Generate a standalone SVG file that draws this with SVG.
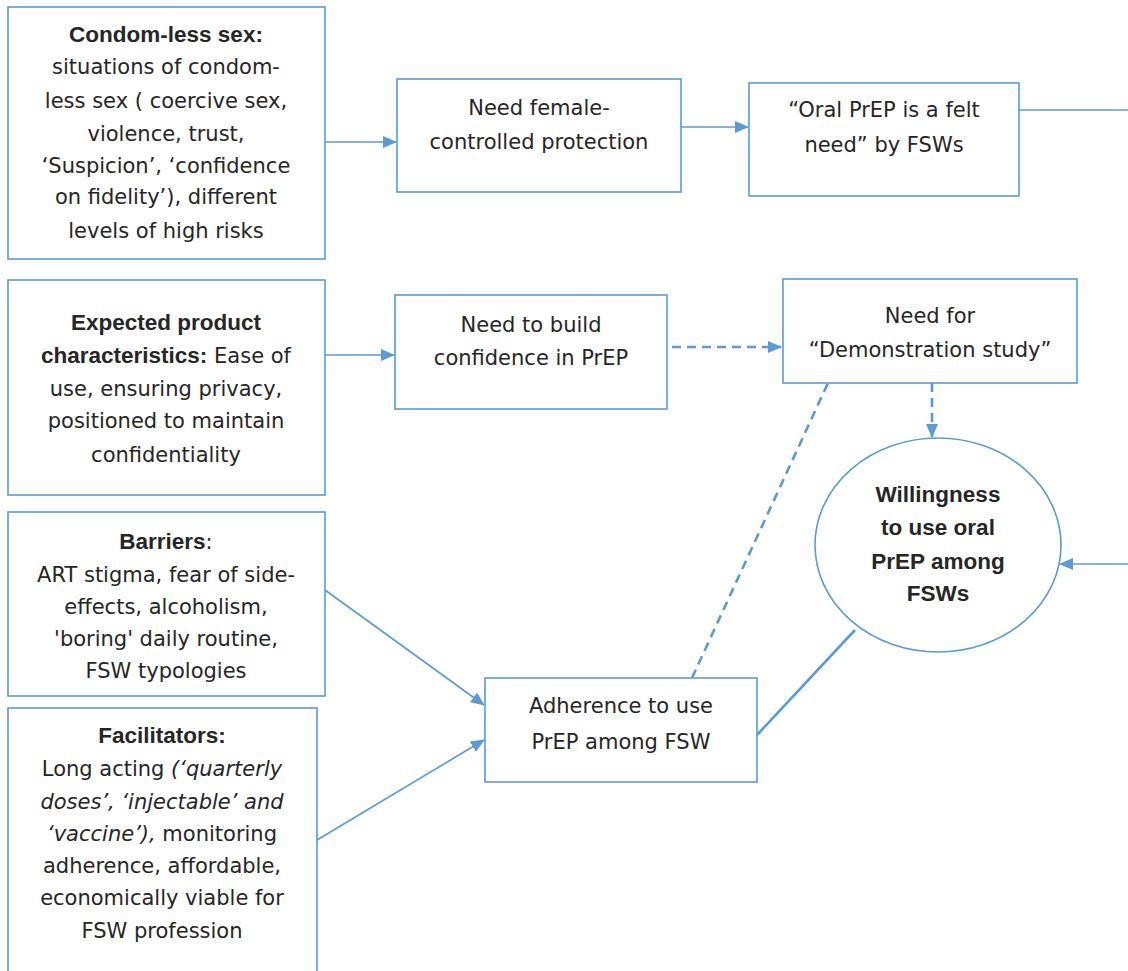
<svg xmlns="http://www.w3.org/2000/svg" width="1128" height="971" viewBox="0 0 1128 971">
<style>
.box{fill:#fff;stroke:#5B9BD5;stroke-width:1.6}
.t{font-family:"DejaVu Sans",Verdana,sans-serif;font-size:21px;fill:#262626;text-anchor:middle}
.b{font-family:"Liberation Sans",Arial,sans-serif;font-size:22.5px;font-weight:bold}
.i{font-style:italic}
.c{fill:none;stroke:#5B9BD5;stroke-width:1.6}
.d{fill:none;stroke:#5B9BD5;stroke-width:2.6;stroke-dasharray:9 6}
</style>
<defs>
<marker id="ah" markerWidth="14" markerHeight="12" refX="13" refY="6" orient="auto" markerUnits="userSpaceOnUse">
<path d="M0,0 L14,6 L0,12 Z" fill="#5B9BD5"/>
</marker>
</defs>
<rect width="1128" height="971" fill="#fff"/>
<g id="connectors">
<line class="c" x1="325" y1="142" x2="396" y2="142" marker-end="url(#ah)"/>
<line class="c" x1="681" y1="127" x2="748" y2="127" marker-end="url(#ah)"/>
<line class="c" x1="1019" y1="110" x2="1128" y2="110"/>
<line class="c" x1="325" y1="355" x2="394" y2="355" marker-end="url(#ah)"/>
<line class="d" x1="672" y1="347" x2="781" y2="347" marker-end="url(#ah)"/>
<line class="d" x1="932" y1="383" x2="932" y2="437" marker-end="url(#ah)"/>
<line class="c" x1="1128" y1="564" x2="1060" y2="564" marker-end="url(#ah)"/>
<line class="c" x1="325" y1="590" x2="484" y2="705" marker-end="url(#ah)"/>
<line class="c" x1="317" y1="840" x2="484" y2="740" marker-end="url(#ah)"/>
<line class="d" x1="692" y1="678" x2="828" y2="383"/>
<line class="c" style="stroke-width:2.6" x1="757" y1="735" x2="855" y2="630"/>
</g>
<g id="n1">
<rect class="box" x="8" y="7" width="317" height="252"/>
<text class="t"><tspan class="b" x="166" y="42">Condom-less sex:</tspan><tspan x="166" y="74">situations of condom-</tspan><tspan x="166" y="108">less sex ( coercive sex,</tspan><tspan x="166" y="141">violence, trust,</tspan><tspan x="166" y="173">‘Suspicion’, ‘confidence</tspan><tspan x="166" y="204">on fidelity’), different</tspan><tspan x="166" y="238">levels of high risks</tspan></text>
</g>
<g id="n2">
<rect class="box" x="397" y="79" width="284" height="113"/>
<text class="t"><tspan x="539" y="115">Need female-</tspan><tspan x="539" y="149">controlled protection</tspan></text>
</g>
<g id="n3">
<rect class="box" x="749" y="83" width="270" height="113"/>
<text class="t"><tspan x="884" y="117">“Oral PrEP is a felt</tspan><tspan x="884" y="152">need” by FSWs</tspan></text>
</g>
<g id="n4">
<rect class="box" x="8" y="280" width="317" height="215"/>
<text class="t"><tspan class="b" x="166" y="330">Expected product</tspan><tspan x="166" y="363"><tspan class="b">characteristics:</tspan> Ease of</tspan><tspan x="166" y="396">use, ensuring privacy,</tspan><tspan x="166" y="428">positioned to maintain</tspan><tspan x="166" y="462">confidentiality</tspan></text>
</g>
<g id="n5">
<rect class="box" x="395" y="295" width="272" height="114"/>
<text class="t"><tspan x="531" y="332">Need to build</tspan><tspan x="531" y="365">confidence in PrEP</tspan></text>
</g>
<g id="n6">
<rect class="box" x="783" y="279" width="294" height="104"/>
<text class="t"><tspan x="930" y="323">Need for</tspan><tspan x="930" y="357">“Demonstration study”</tspan></text>
</g>
<g id="n7">
<ellipse class="box" cx="938" cy="545" rx="123" ry="107"/>
<text class="t"><tspan class="b" x="938" y="502">Willingness</tspan><tspan class="b" x="938" y="535">to use oral</tspan><tspan class="b" x="938" y="569">PrEP among</tspan><tspan class="b" x="938" y="601">FSWs</tspan></text>
</g>
<g id="n8">
<rect class="box" x="8" y="512" width="317" height="184"/>
<text class="t"><tspan x="166" y="549"><tspan class="b">Barriers</tspan>:</tspan><tspan x="166" y="582">ART stigma, fear of side-</tspan><tspan x="166" y="614">effects, alcoholism,</tspan><tspan x="166" y="646">'boring' daily routine,</tspan><tspan x="166" y="678">FSW typologies</tspan></text>
</g>
<g id="n9">
<rect class="box" x="8" y="708" width="309" height="275"/>
<text class="t"><tspan class="b" x="162" y="743">Facilitators:</tspan><tspan x="162" y="776">Long acting <tspan class="i">(‘quarterly</tspan></tspan><tspan class="i" x="162" y="809">doses’, ‘injectable’ and</tspan><tspan x="162" y="841"><tspan class="i">‘vaccine’),</tspan> monitoring</tspan><tspan x="162" y="873">adherence, affordable,</tspan><tspan x="162" y="905">economically viable for</tspan><tspan x="162" y="938">FSW profession</tspan></text>
</g>
<g id="n10">
<rect class="box" x="485" y="678" width="272" height="104"/>
<text class="t"><tspan x="621" y="713">Adherence to use</tspan><tspan x="621" y="749">PrEP among FSW</tspan></text>
</g>
</svg>
